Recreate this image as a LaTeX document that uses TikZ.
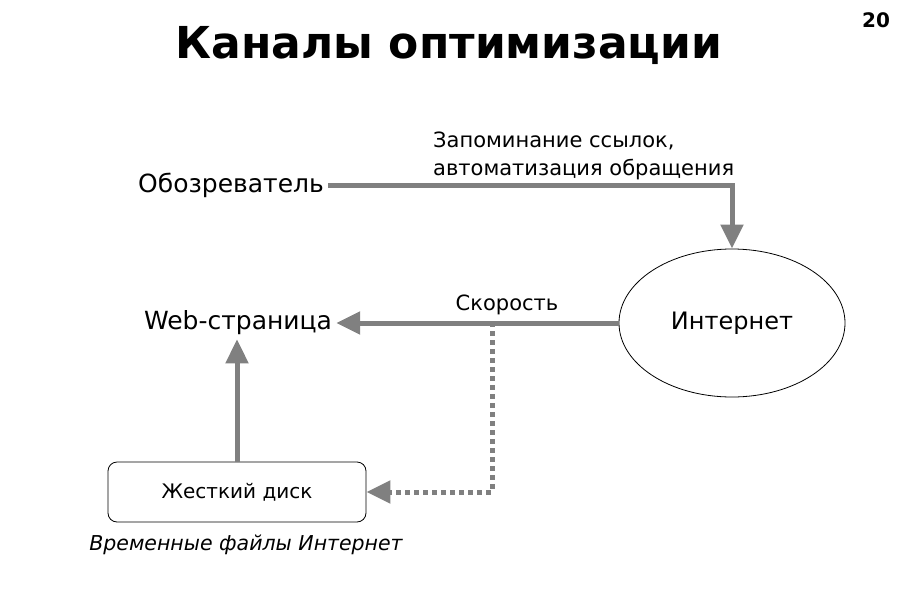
\documentclass[tikz,border=0pt]{standalone}
\usepackage{fontspec}
\setmainfont{DejaVu Sans}
\usepackage{xcolor}
\usepackage{tikz}
\usetikzlibrary{arrows.meta,shapes.geometric,positioning,calc}
\definecolor{linegray}{RGB}{128,128,128}
\tikzset{
  txt/.style    ={inner sep=4pt, font=\fontsize{25}{28}\selectfont},
  lbl/.style    ={inner sep=0pt, align=left, font=\fontsize{21}{28}\selectfont},
  netnode/.style={ellipse, draw, line width=0.8pt, minimum width=226pt,
                  minimum height=148pt, font=\fontsize{24}{28}\selectfont},
  diskbox/.style={draw, rounded corners=9pt, line width=0.8pt,
                  minimum width=258pt, minimum height=60pt,
                  font=\fontsize{20}{24}\selectfont},
  arr/.style    ={-{Triangle[length=24pt,width=22pt]}, line width=5pt,
                  draw=linegray},
  darr/.style   ={-{Triangle[length=24pt,width=22pt]}, line width=5pt,
                  draw=linegray, dash pattern=on 5pt off 4pt},
}
\begin{document}
\begin{tikzpicture}[x=1pt,y=-1pt]
  \useasboundingbox (0,0) rectangle (900,600);
  \node[font=\bfseries\fontsize{44}{48}\selectfont] (title) at (449,45)
        {Каналы оптимизации};
  \node[font=\bfseries\fontsize{20}{24}\selectfont] (page) at (876,20) {20};

  \node[txt] (obz) at (231,185) {Обозреватель};
  \node[txt] (web) at (238,323) {Web-страница};
  \node[netnode] (inet) at (732,323) {Интернет};
  \node[diskbox] (disk) at (237,492) {Жесткий диск};
  \node[font=\itshape\fontsize{20.5}{26}\selectfont] (tmp) at (246,545)
        {Временные файлы Интернет};

  \node[lbl, anchor=south west] (memo) at (433,180)
        {Запоминание ссылок,\\автоматизация обращения};
  \node[lbl] (speed) at (507,305) {Скорость};
  \coordinate (split) at (492,323);

  \draw[arr] (obz.east) -| (inet.north);
  \draw[arr] (inet.west) -- (web.east);
  \draw[darr] (inet.west) -- (split) |- (disk.east);
  \draw[arr] (disk.north) -- (disk.north |- web.south);
\end{tikzpicture}
\end{document}
